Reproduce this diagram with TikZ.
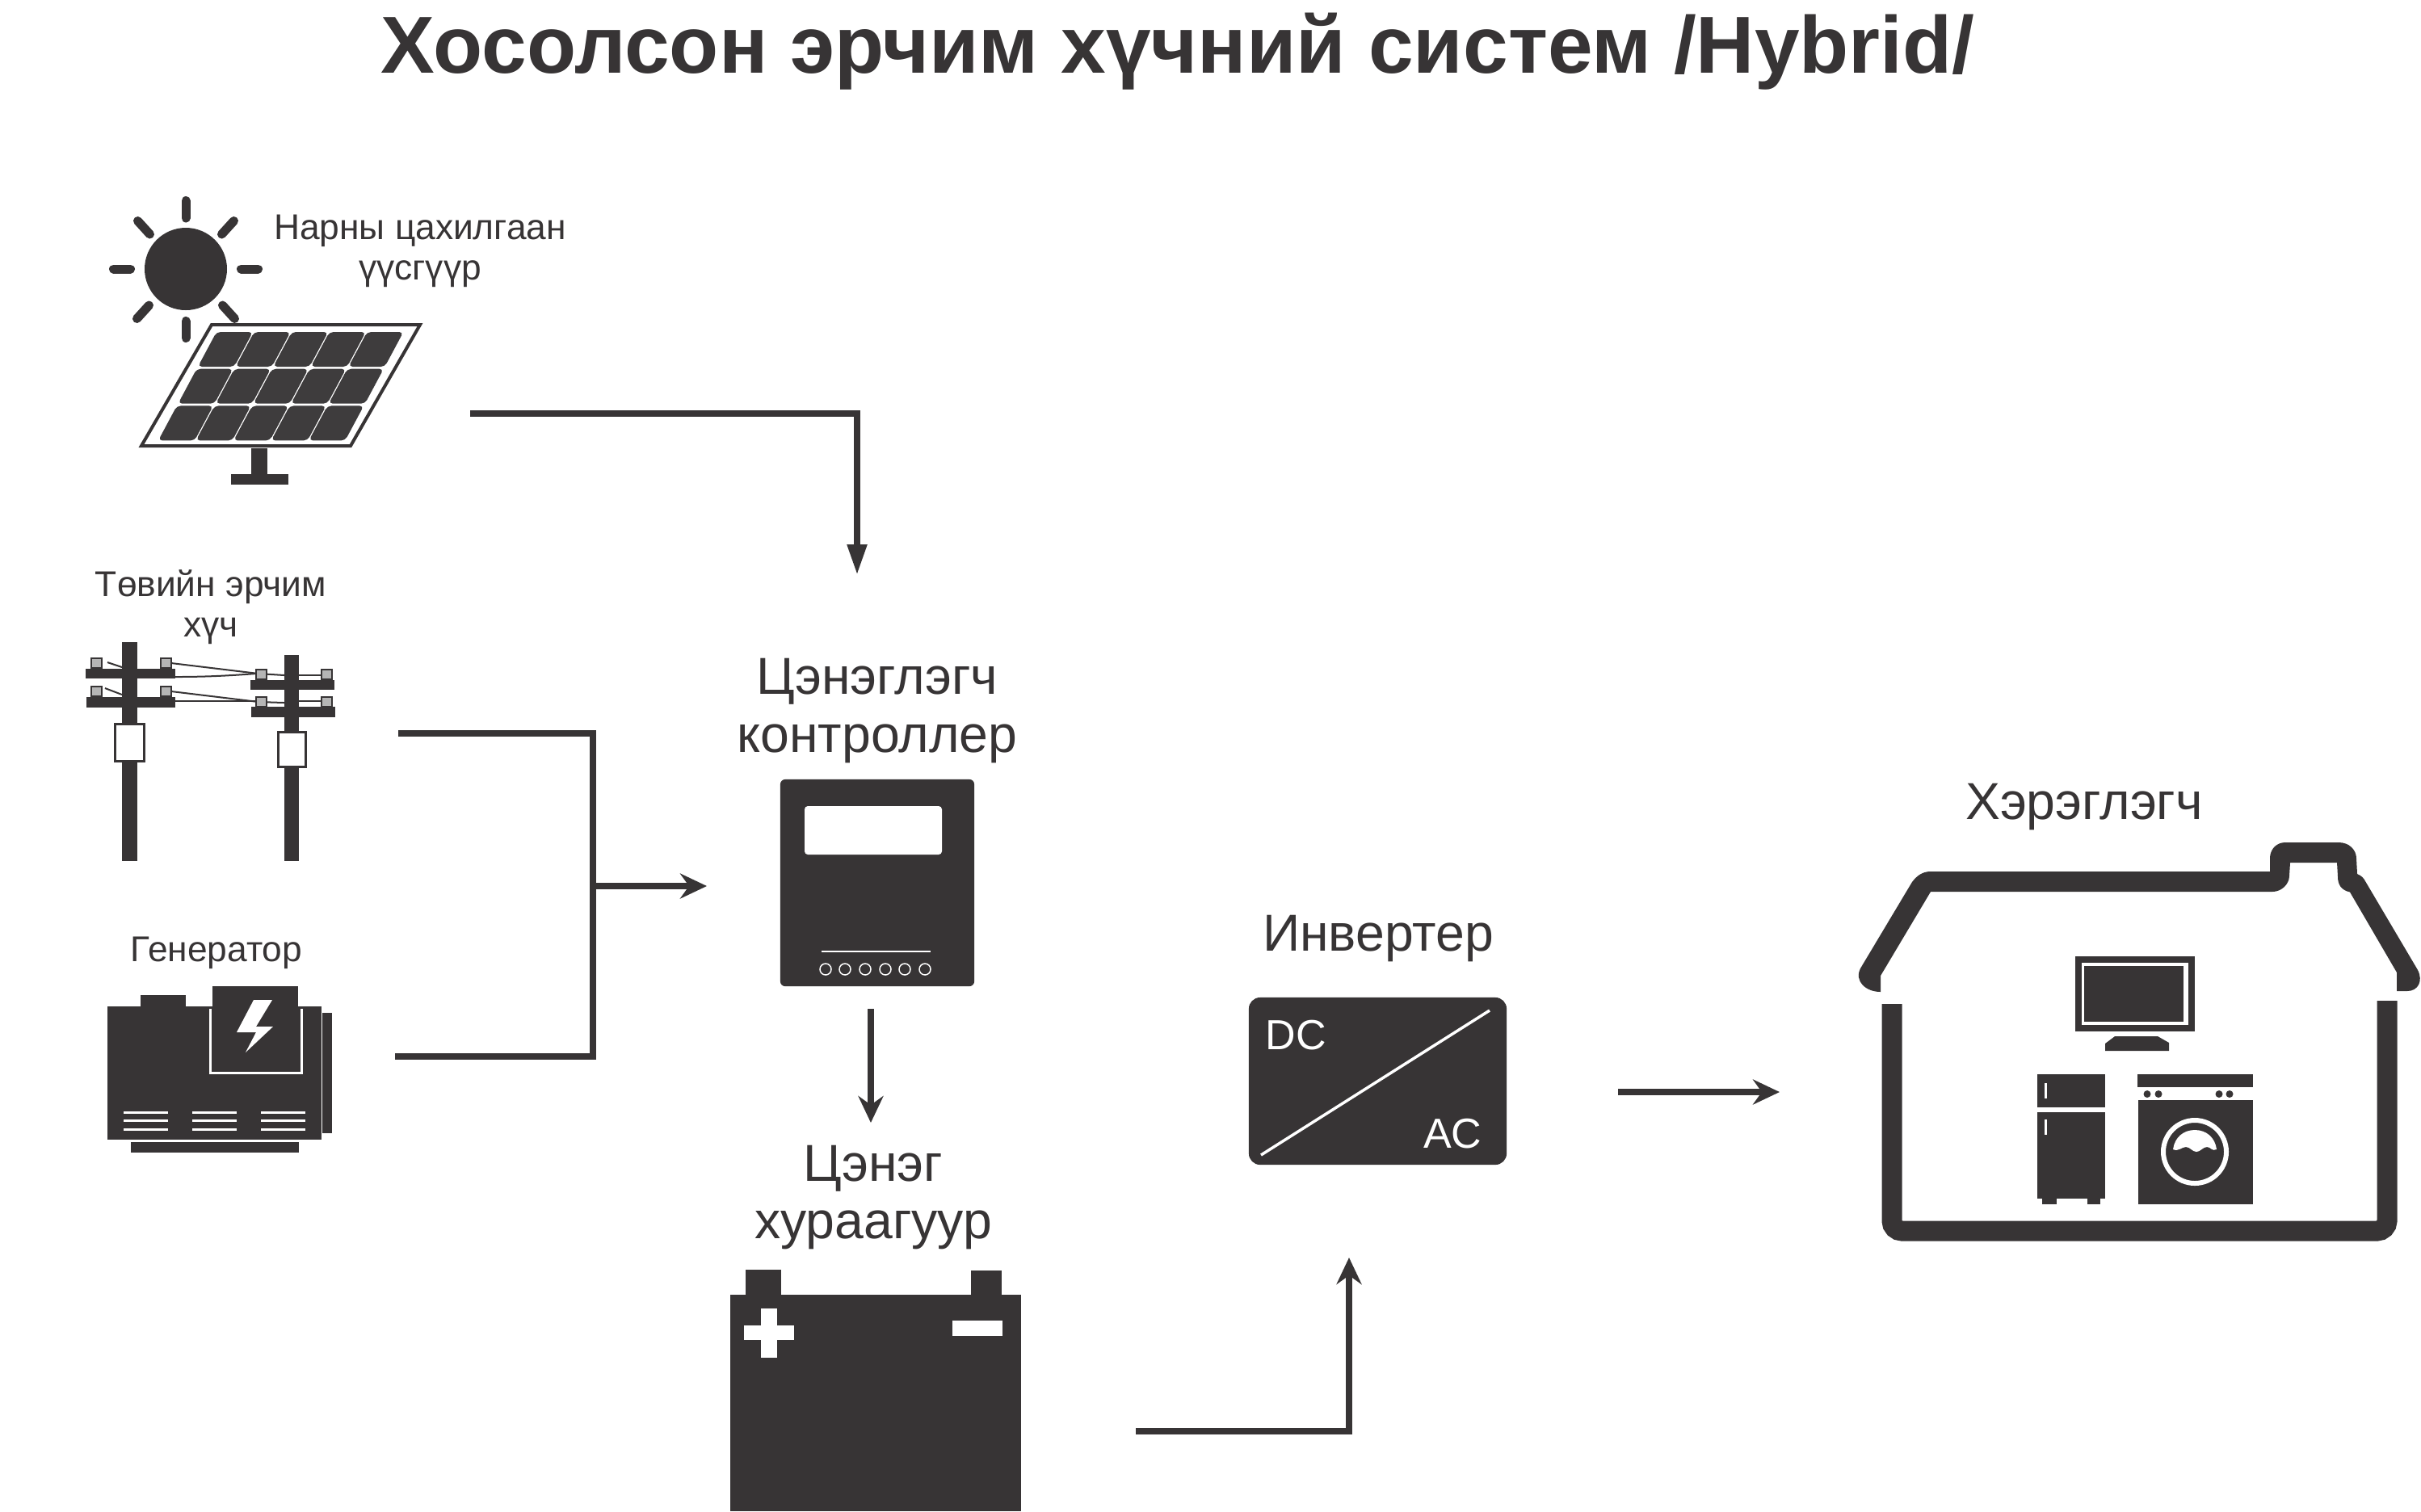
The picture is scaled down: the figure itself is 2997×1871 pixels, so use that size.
\documentclass[tikz,border=0pt]{standalone}
\usepackage{fontspec}
\setmainfont{Liberation Sans}
\usetikzlibrary{arrows.meta}
\definecolor{ink}{HTML}{373435}
\definecolor{cellink}{HTML}{3E3C3D}
\definecolor{pingray}{HTML}{B5B5B5}
\begin{document}
\begin{tikzpicture}[x=0.01cm,y=-0.01cm,
    smalltext/.style={text=ink,font=\fontsize{12.6pt}{14.2pt}\selectfont,align=center,inner sep=0pt},
    bigtext/.style={text=ink,font=\fontsize{18.3pt}{20.2pt}\selectfont,align=center,inner sep=0pt},
    plate/.style={fill=ink,draw=none,inner sep=0pt,outer sep=0pt},
    wire/.style={draw=ink,line width=0.08cm},
    flow/.style={draw=ink,line width=0.08cm,-{Stealth[length=0.33cm,width=0.31cm,inset=0.11cm]}},
    taperflow/.style={draw=ink,line width=0.08cm,-{Triangle[length=0.38cm,width=0.23cm]}},
    ray/.style={draw=ink,line width=0.11cm,line cap=round}]
  \useasboundingbox (0,0) rectangle (2997,1871);

  \node[text=ink,font=\bfseries\fontsize{28.45pt}{32pt}\selectfont,inner sep=0pt,anchor=base] (title) at (1458,90) {Хосолсон эрчим хүчний систем /Hybrid/};

  \fill[ink] (230,333) circle (51);
  \foreach \a/\b/\c/\d in {230/248.5/230/270, 230/397.5/230/418.5, 140.5/333/161.5/333, 298.5/333/319.5/333,
      170.5/273.5/185.5/290, 289.5/273.5/274.5/290, 169.5/394.5/184.5/378, 290.5/394.5/275.5/378}
    \draw[ray] (\a,\b) -- (\c,\d);
  \draw[ink,line width=0.04cm] (262,402) -- (520,402) -- (434,552) -- (175,552) -- cycle;
  \foreach \i in {0,...,4}
    \foreach \j in {0,...,2} {
      \pgfmathsetmacro{\ty}{411+\j*45.7}
      \pgfmathsetmacro{\tx}{268+\i*46.6-0.537*(\ty-411)}
      \fill[cellink,rounded corners=0.05cm] (\tx,\ty) -- (\tx+45,\ty) -- (\tx+22,\ty+43) -- (\tx-23,\ty+43) -- cycle;
    }
  \fill[ink] (311,555) rectangle (331,590);
  \fill[ink] (286,587) rectangle (357,600);
  \node[smalltext,anchor=base] (solarlabel) at (520,346) {Нарны цахилгаан\\үүсгүүр};

  \node[smalltext,anchor=base] (gridlabel) at (261,788) {Төвийн эрчим\\хүч};
  \fill[ink] (151,795) rectangle (170,1066);
  \fill[ink] (352,811) rectangle (370,1066);
  \fill[ink] (106,828) rectangle (217,840);
  \fill[ink] (107,863) rectangle (217,876);
  \fill[ink] (310,842) rectangle (414,854);
  \fill[ink] (311,875) rectangle (415,888);
  \filldraw[draw=ink,fill=white,line width=0.03cm] (142,896) rectangle (178,942);
  \filldraw[draw=ink,fill=white,line width=0.03cm] (344,906) rectangle (378,949);
  \draw[ink,line width=0.02cm] (212,821) -- (320,834) -- (352,836);
  \draw[ink,line width=0.02cm] (217,838) .. controls (260,838) and (290,836) .. (317,834);
  \draw[ink,line width=0.02cm] (370,836) -- (398,836);
  \draw[ink,line width=0.02cm] (212,856) -- (320,869) -- (352,870);
  \draw[ink,line width=0.02cm] (217,868) -- (317,868);
  \draw[ink,line width=0.02cm] (370,868) -- (398,868);
  \draw[ink,line width=0.02cm] (133,820) -- (151,826);
  \draw[ink,line width=0.02cm] (130,852) -- (151,860);
  \foreach \a/\b in {113/815, 199/815, 113/850, 199/850, 317/829, 398/829, 317/863, 398/863}
    \filldraw[draw=ink,fill=pingray,line width=0.02cm] (\a,\b) rectangle ++(13,12);

  \node[smalltext,anchor=base] (genlabel) at (268,1190) {Генератор};
  \fill[ink] (133,1246) rectangle (398,1411);
  \fill[ink] (174,1232) rectangle (230,1247);
  \filldraw[draw=white,fill=ink,line width=0.03cm] (260,1249) -- (260,1328) -- (373,1328) -- (373,1249);
  \fill[ink] (263,1221) rectangle (369,1325);
  \fill[ink] (399,1254) rectangle (411,1403);
  \fill[ink] (162,1414) rectangle (370,1427);
  \fill[white] (337,1238) -- (314,1238) -- (293,1278) -- (317,1278) -- (304,1303) -- (338,1271) -- (317,1271) -- cycle;
  \foreach \a in {153,238,323}
    \foreach \b in {1377,1387,1398}
      \fill[white] (\a,\b-1.5) rectangle ++(55,3);

  \node[bigtext,anchor=base] (ctrllabel) at (1086,931) {Цэнэглэгч\\контроллер};
  \node[plate,rounded corners=0.06cm,minimum width=2.4cm,minimum height=2.56cm] (controller) at (1086,1093) {};
  \fill[white,rounded corners=0.04cm] (996,998) rectangle (1166,1058);
  \draw[white,line width=0.02cm] (1017,1178) -- (1152,1178);
  \foreach \a in {1022,1046,1071,1096,1120,1145}
    \draw[white,line width=0.015cm] (\a,1200) circle (7);

  \node[bigtext,anchor=base] (batlabel) at (1081,1533) {Цэнэг\\хураагуур};
  \node[plate,minimum width=3.6cm,minimum height=2.68cm,anchor=north west] (battery) at (904,1603) {};
  \fill[ink] (923,1572) rectangle (967,1604);
  \fill[ink] (1202,1573) rectangle (1240,1604);
  \fill[white] (942,1620) rectangle (962,1681);
  \fill[white] (921,1641) rectangle (983,1659);
  \fill[white] (1179,1635) rectangle (1241,1654);

  \node[bigtext,anchor=base] (invlabel) at (1706,1177) {Инвертер};
  \node[plate,rounded corners=0.14cm,minimum width=3.19cm,minimum height=2.07cm] (inverter) at (1705.5,1338.5) {};
  \draw[white,line width=0.035cm] (1844,1251) -- (1561,1430);
  \node[text=white,font=\fontsize{14.8pt}{17pt}\selectfont,inner sep=0pt,anchor=base west] (dc) at (1566,1299) {DC};
  \node[text=white,font=\fontsize{14.8pt}{17pt}\selectfont,inner sep=0pt,anchor=base east] (ac) at (1835,1421) {AC};

  \node[bigtext,anchor=base] (loadlabel) at (2580,1014) {Хэрэглэгч};
  \fill[ink] (2328,1228) .. controls (2310,1228) and (2295,1215) .. (2303,1199) -- (2367,1092)
    .. controls (2373,1084) and (2380,1079) .. (2390,1079) -- (2810,1079) -- (2810,1061)
    .. controls (2811,1050) and (2819,1043) .. (2829,1043) -- (2895,1043)
    .. controls (2908,1043) and (2917,1052) .. (2917,1063) -- (2918,1082)
    .. controls (2923,1084) and (2926,1087) .. (2928,1091) -- (2993,1201)
    .. controls (3000,1215) and (2993,1227) .. (2980,1227) -- (2967,1227) -- (2967,1204) -- (2909,1104.5)
    .. controls (2898,1102) and (2894,1095) .. (2894,1085.5) -- (2893,1068) -- (2835,1068) -- (2834,1084)
    .. controls (2834,1095) and (2824,1104) .. (2813,1104) -- (2390,1104) -- (2328,1208) -- cycle;
  \draw[ink,line width=0.25cm,rounded corners=0.125cm] (2342,1243) -- (2342,1524) -- (2955,1524) -- (2955,1239);
  \fill[ink] (2569,1184) rectangle (2717,1277);
  \fill[white] (2577,1192) rectangle (2709,1269);
  \fill[ink] (2580,1195.5) rectangle (2703,1265);
  \fill[ink] (2618,1283) -- (2671,1283) -- (2685,1291) -- (2685,1301) -- (2606,1301) -- (2606,1292) -- cycle;
  \fill[ink] (2522,1330) rectangle (2606,1371);
  \fill[ink] (2522,1377) rectangle (2606,1484);
  \fill[ink] (2528,1484) rectangle (2546,1491);
  \fill[ink] (2584,1484) rectangle (2600,1491);
  \fill[white] (2531,1341) rectangle (2534,1360);
  \fill[white] (2531,1385.5) rectangle (2534,1404.5);
  \fill[ink] (2646,1330) rectangle (2788.5,1345.5);
  \foreach \a in {2658,2672,2747,2760}
    \fill[ink] (\a,1354.5) circle (4.5);
  \fill[ink] (2647,1362) rectangle (2789,1491);
  \draw[white,line width=0.06cm] (2717,1426) circle (39);
  \fill[white] (2690,1423) .. controls (2692,1408) and (2703,1399) .. (2717,1399)
    .. controls (2731,1399) and (2742,1408) .. (2744,1423)
    .. controls (2738,1426) and (2737,1420) .. (2732,1420)
    .. controls (2727,1420) and (2724,1426) .. (2719,1426)
    .. controls (2714,1426) and (2711,1420) .. (2706,1420)
    .. controls (2701,1420) and (2697,1426) .. (2690,1423) -- cycle;

  \coordinate (solarout) at (582,512);
  \coordinate (solarturn) at (1061,512);
  \coordinate (ctrltop) at (1061,712);
  \coordinate (gridout) at (493,908);
  \coordinate (genout) at (489,1307.5);
  \coordinate (gridturn) at (734,908);
  \coordinate (genturn) at (734,1307.5);
  \coordinate (busjoin) at (734,1097);
  \coordinate (ctrlleft) at (875,1097);
  \coordinate (ctrlout) at (1078,1249);
  \coordinate (batin) at (1078,1390);
  \coordinate (batout) at (1406,1772);
  \coordinate (batturn) at (1670,1772);
  \coordinate (invin) at (1670,1557);
  \coordinate (invout) at (2003,1352);
  \coordinate (loadin) at (2203,1352);
  \draw[wire] (gridout) -- (gridturn) -- (genturn) -- (genout);
  \draw[taperflow] (solarout) -- (solarturn) -- (ctrltop);
  \draw[flow] (busjoin) -- (ctrlleft);
  \draw[flow] (ctrlout) -- (batin);
  \draw[flow] (batout) -- (batturn) -- (invin);
  \draw[flow] (invout) -- (loadin);
\end{tikzpicture}
\end{document}
